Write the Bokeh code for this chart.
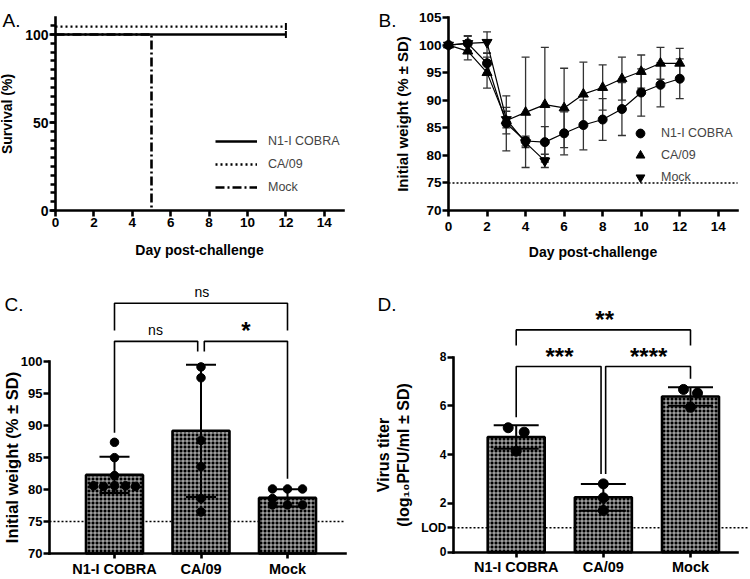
import numpy as np
from bokeh.plotting import figure
from bokeh.models import FixedTicker, Label, Legend, LegendItem
from bokeh.layouts import gridplot
from bokeh.embed import file_html
from bokeh.resources import INLINE

FONT = "Liberation Sans"

# ---------------- data ----------------
groups = ["N1-I COBRA", "CA/09", "Mock"]

# A: survival (%)
surv_n1_days = [0, 12]
surv_n1 = [100, 100]
surv_ca_days = [0, 12]
surv_ca = [100, 100]
surv_mock_days = [0, 5, 5]
surv_mock = [100, 100, 0]
day_ticks = [0, 2, 4, 6, 8, 10, 12, 14]

# B: weight (% of initial, mean and SD)
days = [0, 1, 2, 3, 4, 5, 6, 7, 8, 9, 10, 11, 12]
w_n1 = [100, 100.3, 96.7, 85.8, 82.6, 82.4, 84.0, 85.5, 86.5, 88.4, 91.4, 92.8, 93.9]
sd_n1 = [0, 1.4, 1.8, 5.0, 0.9, 2.8, 3.9, 4.5, 3.8, 4.8, 4.3, 4.0, 3.6]
w_ca = [100, 98.9, 95.0, 86.3, 87.8, 89.2, 88.6, 91.1, 92.3, 93.9, 95.2, 96.7, 96.7]
sd_ca = [0, 1.6, 2.8, 2.4, 10.0, 10.4, 7.2, 5.8, 4.1, 3.9, 3.0, 2.9, 2.7]
mock_days = [0, 1, 2, 3, 4, 5]
w_mock = [100, 100.3, 100.5, 86.5, 82.3, 79.0]
sd_mock = [0, 1.3, 1.9, 1.5, 0.9, 1.2]
weight_ticks = [70, 75, 80, 85, 90, 95, 100, 105]
weight_threshold = 75

# C: day-5 weight per mouse
c_pts = [
    [87.4, 85.0, 82.2, 80.6, 80.5, 80.6, 80.6, 80.5],
    [99.2, 97.5, 87.7, 83.6, 78.6, 76.5],
    [80.1, 80.1, 80.1, 78.6, 77.6, 77.6, 77.6],
]
c_mean = [82.3, 89.2, 78.7]
c_sd = [2.85, 10.35, 1.35]
c_ticks = [70, 75, 80, 85, 90, 95, 100]

# D: lung virus titer (log10 PFU/ml)
d_pts = [
    [5.10, 4.92, 4.14],
    [2.80, 2.23, 1.71],
    [6.67, 6.52, 5.94],
]
d_mean = [4.72, 2.25, 6.38]
d_sd = [0.48, 0.55, 0.38]
d_ticks = [0, 1, 2, 4, 6, 8]
lod = 1

# ---------------- layout (pixels) ----------------
C_JIT = [[0, 0, 0, -21, -11, 0, 11, 21], [0, 0, 0, 0, 0, 0], [-15, 0, 15, -15, -15, 0, 15]]
D_JIT = [[-8, 8, 0], [0, 0, 0], [-7, 7, 0]]
W, H_TOP, H_BOT = 375, 278, 300


def rng(lo_px, hi_px, org_px, org_val, scale, flip=False):
    """data range for a canvas spanning lo_px..hi_px (page px)"""
    if flip:
        return (org_val + (org_px - hi_px) / scale, org_val + (org_px - lo_px) / scale)
    return (org_val + (lo_px - org_px) / scale, org_val + (hi_px - org_px) / scale)


def base_fig(w, h, xr, yr, x_at, y_at, xb, yb):
    p = figure(width=w, height=h, x_range=xr, y_range=yr, output_backend="svg",
               toolbar_location=None, min_border=0)
    p.grid.visible = False
    p.outline_line_color = None
    p.background_fill_color = "white"
    p.border_fill_color = "white"
    p.xaxis.fixed_location = y_at
    p.yaxis.fixed_location = x_at
    p.xaxis.bounds = xb
    p.yaxis.bounds = yb
    for ax in (p.xaxis[0], p.yaxis[0]):
        ax.axis_line_width = 2.6
        ax.axis_line_color = "black"
        ax.axis_line_cap = "square"
        ax.major_tick_line_width = 2.6
        ax.major_tick_line_color = "black"
        ax.major_tick_in = 0
        ax.major_tick_out = 6
        ax.minor_tick_line_color = None
        ax.major_label_text_font = FONT
        ax.major_label_text_font_style = "bold"
        ax.major_label_text_color = "black"
        ax.major_label_text_font_size = "13.5px"
        ax.major_label_standoff = 1
        ax.axis_label_text_font = FONT
        ax.axis_label_text_font_style = "bold"
        ax.axis_label_text_color = "black"
        ax.axis_label_text_font_size = "14px"
        ax.axis_label_standoff = 2
    return p


def panel_letter(p, text, x, y):
    p.add_layout(Label(x=x, y=y, text=text, text_font=FONT, text_font_size="19px",
                       text_align="left", text_baseline="alphabetic", text_color="black"))


# ---------------- A ----------------
AX, AY = 19.2, 1.76
pA = base_fig(W, H_TOP, rng(0, 375, 55, 0, AX), rng(0, 278, 210, 0, AY, True),
              0, 0, (0, 15), (0, 109.66))
pA.xaxis.ticker = FixedTicker(ticks=day_ticks)
pA.yaxis.ticker = FixedTicker(ticks=[0, 50, 100], minor_ticks=list(range(0, 110, 5)))
pA.yaxis.minor_tick_line_color = "black"
pA.yaxis.minor_tick_line_width = 2.6
pA.yaxis.minor_tick_in = 0
pA.yaxis.minor_tick_out = 5
pA.yaxis.major_label_text_font_size = "14px"
pA.xaxis.axis_label = "Day post-challenge"
pA.xaxis.axis_label_standoff = 12
pA.yaxis.axis_label = "Survival (%)"
pA.yaxis.axis_label_standoff = 7
ca_offset = 4.5  # GraphPad-style offset so overlapping curves stay visible
rA1 = pA.line(surv_n1_days, surv_n1, line_color="black", line_width=2.6)
rA2 = pA.line(surv_ca_days, [v + ca_offset for v in surv_ca], line_color="black",
              line_width=2.4, line_dash="2 3")
rA3 = pA.line(surv_mock_days, surv_mock, line_color="black", line_width=2.6,
              line_dash="9 3 2 3")
pA.scatter([surv_n1_days[-1]], [surv_n1[-1]], marker="dash", angle=np.pi / 2, size=7,
           line_color="black", line_width=2)
pA.scatter([surv_ca_days[-1]], [surv_ca[-1] + ca_offset], marker="dash", angle=np.pi / 2,
           size=7, line_color="black", line_width=2)
legA = Legend(items=[LegendItem(label=groups[0], renderers=[rA1]),
                     LegendItem(label=groups[1], renderers=[rA2]),
                     LegendItem(label=groups[2], renderers=[rA3])],
              location=(215, 81), glyph_width=42, glyph_height=20, label_height=20,
              spacing=3, label_standoff=11, padding=0, margin=0,
              border_line_color=None, background_fill_alpha=0,
              label_text_font=FONT, label_text_font_size="12.5px")
pA.add_layout(legA)
panel_letter(pA, "A.", (2 - 55) / AX, (210 - 20) / AY)

# ---------------- B ----------------
BX, BY = 19.27, 5.514
pB = base_fig(W, H_TOP, rng(375, 750, 448, 0, BX), rng(0, 278, 210, 70, BY, True),
              0, 70, (0, 15), (70, 105))
pB.xaxis.ticker = FixedTicker(ticks=day_ticks)
pB.yaxis.ticker = FixedTicker(ticks=weight_ticks)
pB.xaxis.major_label_standoff = 5
pB.xaxis.axis_label = "Day post-challenge"
pB.xaxis.axis_label_standoff = 10
pB.yaxis.axis_label = "Initial weight (% \u00b1 SD)"
pB.yaxis.axis_label_text_font_size = "15px"
pB.yaxis.axis_label_standoff = 5
pB.line([0, 15], [weight_threshold] * 2, line_color="black", line_width=1.6,
        line_dash="2 2")
cap_b = 8 / BX


def err_b(xs, m, s, col="#333333"):
    xs = np.array(xs, float); m = np.array(m, float); s = np.array(s, float)
    k = s > 0
    xs, m, s = xs[k], m[k], s[k]
    pB.segment(xs, m - s, xs, m + s, line_color=col, line_width=1.3)
    pB.segment(xs - cap_b / 2, m + s, xs + cap_b / 2, m + s, line_color=col, line_width=1.3)
    pB.segment(xs - cap_b / 2, m - s, xs + cap_b / 2, m - s, line_color=col, line_width=1.3)


err_b(days, w_n1, sd_n1)
err_b(days, w_ca, sd_ca)
err_b(mock_days, w_mock, sd_mock)
pB.line(days, w_n1, line_color="black", line_width=1.2)
pB.line(days, w_ca, line_color="black", line_width=1.2)
pB.line(mock_days, w_mock, line_color="black", line_width=1.2)
rB1 = pB.scatter(days, w_n1, marker="circle", size=9, color="black")
rB2 = pB.scatter(days, w_ca, marker="triangle", size=10, color="black")
rB3 = pB.scatter(mock_days, w_mock, marker="inverted_triangle", size=10, color="black")
legB = Legend(items=[LegendItem(label=groups[0], renderers=[rB1]),
                     LegendItem(label=groups[1], renderers=[rB2]),
                     LegendItem(label=groups[2], renderers=[rB3])],
              location=(254, 90), glyph_width=22, glyph_height=22, label_height=22,
              spacing=0, label_standoff=10, padding=0, margin=0,
              border_line_color=None, background_fill_alpha=0,
              label_text_font=FONT, label_text_font_size="12.5px")
pB.add_layout(legB)
panel_letter(pB, "B.", (378 - 448) / BX, 70 + (210 - 20) / BY)


# ---------------- bar panels ----------------
def bar_panel(p, means, sds, pts, jit, px_per_x, base, bw, cap, msize):
    xs = np.arange(1, len(groups) + 1)
    p.vbar(x=xs, top=means, bottom=base, width=bw, fill_color="black",
           hatch_pattern="+", hatch_color="white", hatch_scale=4, hatch_weight=0.75,
           line_color="black", line_width=2.6)
    m = np.array(means); s = np.array(sds)
    p.segment(xs, m - s, xs, m + s, line_color="black", line_width=2)
    p.segment(xs - cap / 2, m + s, xs + cap / 2, m + s, line_color="black", line_width=2)
    p.segment(xs - cap / 2, m - s, xs + cap / 2, m - s, line_color="black", line_width=2)
    px, py = [], []
    for i, (vals, jj) in enumerate(zip(pts, jit)):
        for v, j in zip(vals, jj):
            px.append(xs[i] + j / px_per_x)
            py.append(v)
    p.scatter(px, py, marker="circle", size=msize, color="black")
    p.xaxis.ticker = FixedTicker(ticks=list(xs))
    p.xaxis.major_label_overrides = {int(x): g for x, g in zip(xs, groups)}
    p.xaxis.major_label_text_font_size = "14.5px"
    p.xaxis.major_tick_out = 5
    p.xaxis.major_label_standoff = 2


def bracket(p, xl, xr, ytop, yl, yr):
    p.line([xl, xl, xr, xr], [yl, ytop, ytop, yr], line_color="black", line_width=1.6)


def sig(p, x, y, text, size, style, dy=0):
    p.add_layout(Label(x=x, y=y, y_offset=dy, text=text, text_font=FONT,
                       text_font_size=size, text_font_style=style, text_align="center",
                       text_baseline="alphabetic", text_color="black"))


# ---------------- C ----------------
CX, CY = 86.5, 6.39
c_x0 = 1 + (49 - 114) / CX
c_x1 = 1 + (345 - 114) / CX
pC = base_fig(W, H_BOT, rng(0, 375, 114, 1, CX), rng(278, 578, 553, 70, CY, True),
              c_x0, 70, (c_x0, c_x1), (70, 100))
pC.yaxis.ticker = FixedTicker(ticks=c_ticks)
pC.yaxis.major_label_text_font_size = "13px"
pC.yaxis.axis_label = "Initial weight (% \u00b1 SD)"
pC.yaxis.axis_label_text_font_size = "16.5px"
pC.yaxis.axis_label_standoff = -3
pC.line([c_x0, c_x1], [weight_threshold] * 2, line_color="black", line_width=1.4,
        line_dash="2 2")
bar_panel(pC, c_mean, c_sd, c_pts, C_JIT, CX, 70, 57 / CX, 30 / CX, 8.5)
g = 3.3 / CX
bracket(pC, 1, 3, 109.17, 104.9, 104.9)
bracket(pC, 1, 2 - g, 103.2, 88.9, 101.6)
bracket(pC, 2 + g, 3, 103.2, 101.6, 81.7)
sig(pC, 2.01, 109.17, "ns", "14px", "normal", 11)
sig(pC, 1.474, 103.2, "ns", "14px", "normal", 11)
sig(pC, 2.52, 103.2, "*", "24px", "bold", 11)
panel_letter(pC, "C.", 1 + (4 - 114) / CX, 70 + (553 - 304) / CY)

# ---------------- D ----------------
DX, DY = 87.15, 24.4
d_x0 = 1 + (453 - 515.7) / DX
d_x1 = 1 + (737 - 515.7) / DX
pD = base_fig(W, H_BOT, rng(375, 750, 515.7, 1, DX), rng(278, 578, 551.7, 0, DY, True),
              d_x0, 0, (d_x0, d_x1), (0, 8))
pD.yaxis.ticker = FixedTicker(ticks=d_ticks)
pD.yaxis.major_label_overrides = {lod: "LOD"}
pD.yaxis.major_label_text_font_size = "12px"
pD.yaxis.axis_label = "Virus titer\n(log\u2081\u2080PFU/ml \u00b1 SD)"
pD.yaxis.axis_label_text_font_size = "16px"
pD.yaxis.axis_label_standoff = 6
pD.line([d_x0, 1 + (748 - 515.7) / DX], [lod] * 2, line_color="black", line_width=1.4,
        line_dash="2 2")
bar_panel(pD, d_mean, d_sd, d_pts, D_JIT, DX, 0, 57 / DX, 45 / DX, 10)
g = 2.3 / DX
bracket(pD, 1, 3, 9.11, 8.47, 8.47)
bracket(pD, 1, 2 - g, 7.61, 5.53, 3.21)
bracket(pD, 2 + g, 3, 7.61, 3.21, 7.11)
sig(pD, 2.015, 9.11, "**", "24px", "bold", 10)
sig(pD, 1.497, 7.61, "***", "24px", "bold", 10)
sig(pD, 2.52, 7.61, "****", "24px", "bold", 10)
panel_letter(pD, "D.", 1 + (377 - 515.7) / DX, (551.7 - 304) / DY)

grid = gridplot([[pA, pB], [pC, pD]], toolbar_location=None)
open("out.html", "w").write(file_html(grid, INLINE))
